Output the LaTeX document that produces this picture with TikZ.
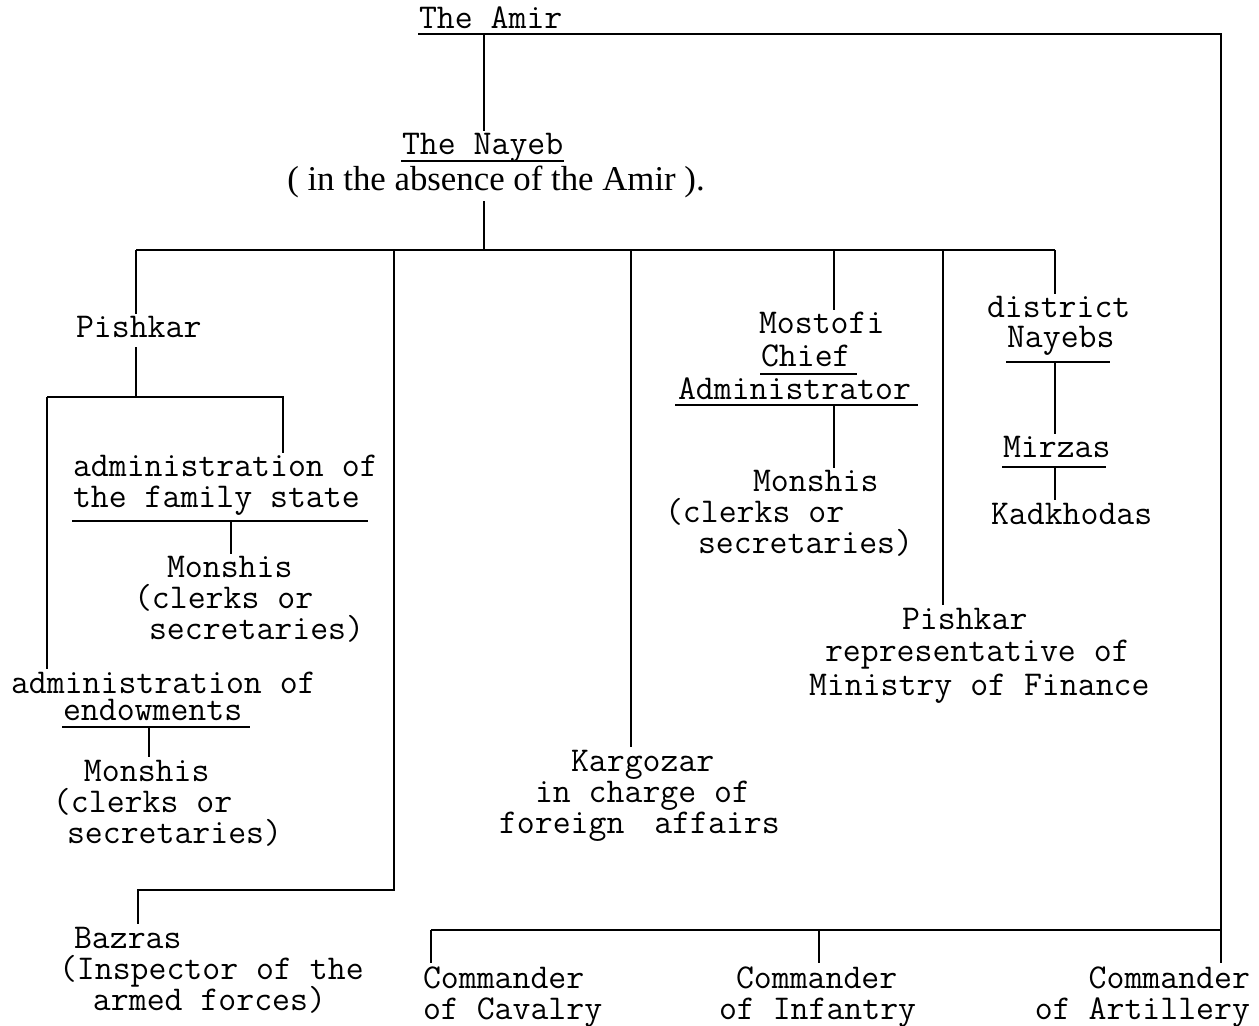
\documentclass[tikz,border=0pt]{standalone}
\usepackage{fontspec}
\newfontfamily\serfont{Liberation Serif}
\newcommand\stkl[2]{\vtop{\baselineskip=#1\relax\lineskiplimit=-100pt\lineskip=0pt\halign{##\hfil\cr#2\crcr}}}
\newcommand\stkr[2]{\vtop{\baselineskip=#1\relax\lineskiplimit=-100pt\lineskip=0pt\halign{\hfil##\cr#2\crcr}}}
\begin{document}
\begin{tikzpicture}[x=0.5pt,y=-0.5pt,line width=1pt,
  tt/.style={font=\ttfamily\fontsize{17.4}{15.5}\selectfont,inner xsep=0pt,inner ysep=1pt,anchor=base west},
  ser/.style={font=\serfont\fontsize{17.4}{18}\selectfont,inner xsep=0pt,inner ysep=1pt,anchor=base},
  uline/.style={line width=0.8pt}]
\fill[white] (0,0) rectangle (1259,1026);
\useasboundingbox (0,0) rectangle (1259,1026);

% ---- text nodes ----
\node[tt] (amir) at (418,29) {The Amir};
\node[tt] (nayeb) at (401,155) {The Nayeb};
\node[ser] (absence) at (496,191) {( in the absence of the Amir ).};
\node[tt] (pishkar) at (75,338) {Pishkar};
\node[tt] (family) at (72,477) {\stkl{15.5pt}{administration of\cr the family state}};
\node[tt] (monA) at (133,578) {\stkl{15.5pt}{\hspace*{16.5pt}Monshis\cr (clerks or\cr \hspace*{7.5pt}secretaries)}};
\node[tt] (endow) at (10,693) {\stkl{13.5pt}{administration of\cr \hspace*{26pt}endowments}};
\node[tt] (monB) at (52,781) {\stkl{15.5pt}{\hspace*{15.5pt}Monshis\cr (clerks or\cr \hspace*{7pt}secretaries)}};
\node[tt] (bazras) at (58,948) {\stkl{15.5pt}{\hspace*{7.5pt}Bazras\cr (Inspector of the\cr \hspace*{17pt}armed forces)}};
\node[tt] (karg) at (498,771) {\stkl{15.5pt}{\hspace*{36pt}Kargozar\cr \hspace*{18pt}in charge of\cr foreign\hspace*{6pt} affairs}};
\node[tt] (mostofi) at (677,334) {\stkl{16.5pt}{\hspace*{40.5pt}Mostofi\cr \hspace*{41.5pt}Chief\cr Administrator}};
\node[tt] (monC) at (664,492) {\stkl{15.5pt}{\hspace*{44pt}Monshis\cr (clerks or\cr \hspace*{16.5pt}secretaries)}};
\node[tt] (district) at (986,318) {\stkl{15pt}{district\cr \hspace*{10pt}Nayebs}};
\node[tt] (mirzas) at (1002,458) {Mirzas};
\node[tt] (kadk) at (990,524) {Kadkhodas};
\node[tt] (rep) at (808,629) {\stkl{16.5pt}{\hspace*{46.5pt}Pishkar\cr \hspace*{8pt}representative of\cr Ministry of Finance}};
\node[tt] (cav) at (422,988) {\stkl{15.5pt}{Commander\cr of Cavalry}};
\node[tt] (inf) at (718,988) {\stkl{15.5pt}{\hspace*{8.5pt}Commander\cr of Infantry}};
\node[tt,anchor=base east] (art) at (1251,988) {\stkr{15.5pt}{Commander\cr of Artillery}};

% ---- junction coordinates ----
\coordinate (amirL) at (418,34);
\coordinate (amirR) at (1221,34);
\coordinate (nJ) at (484,34);
\coordinate (nJ2) at (484,250);
\coordinate (busL) at (136,250);
\coordinate (busR) at (1055,250);
\coordinate (pJ) at (136,397);
\coordinate (p2L) at (47,397);
\coordinate (p2R) at (283,397);
\coordinate (famUL) at (72,521);
\coordinate (famUR) at (368,521);
\coordinate (famJ) at (231,521);
\coordinate (enUL) at (62,727);
\coordinate (enUR) at (250,727);
\coordinate (enJ) at (149,727);
\coordinate (bzT) at (394,250);
\coordinate (bzC) at (394,890);
\coordinate (bzL) at (138,890);
\coordinate (kJ) at (631,250);
\coordinate (mJ) at (834,250);
\coordinate (chUL) at (760,374);
\coordinate (chUR) at (857,374);
\coordinate (adUL) at (675,405);
\coordinate (adUR) at (918,405);
\coordinate (mJ2) at (834,405);
\coordinate (rJ) at (943,250);
\coordinate (nyUL) at (1006,362);
\coordinate (nyUR) at (1110,362);
\coordinate (dJ) at (1055,362);
\coordinate (mzUL) at (1002,467);
\coordinate (mzUR) at (1106,467);
\coordinate (mzJ) at (1055,467);
\coordinate (cbusL) at (431,930);
\coordinate (cbusM) at (819,930);
\coordinate (cbusR) at (1221,930);

% ---- connectors ----
\draw (amirL) -- (amirR) -- (cbusR) -- (cbusR |- art.north);
\draw (nJ) -- (nJ |- nayeb.north);
\draw[uline] ([yshift=-3pt]nayeb.base west) -- ([yshift=-3pt]nayeb.base east);
\draw (nJ2 |- absence.south) -- (nJ2);
\draw (busL) -- (busR);
\draw (busL) -- (busL |- pishkar.north);
\draw ([yshift=-3pt]pishkar.south -| pJ) -- (pJ);
\draw (p2L) -- (p2R) -- (p2R |- family.north);
\draw (p2L) -- (p2L |- endow.north);
\draw[uline] (famUL) -- (famUR);
\draw (famJ) -- (famJ |- monA.north);
\draw[uline] (enUL) -- (enUR);
\draw (enJ) -- (enJ |- monB.north);
\draw (bzT) -- (bzC) -- (bzL) -- (bzL |- bazras.north);
\draw (kJ) -- (kJ |- karg.north);
\draw (mJ) -- (mJ |- mostofi.north);
\draw[uline] (chUL) -- (chUR);
\draw[uline] (adUL) -- (adUR);
\draw (mJ2) -- (mJ2 |- monC.north);
\draw (rJ) -- (rJ |- rep.north);
\draw (busR) -- (busR |- district.north);
\draw[uline] (nyUL) -- (nyUR);
\draw (dJ) -- (dJ |- mirzas.north);
\draw[uline] (mzUL) -- (mzUR);
\draw (mzJ) -- (mzJ |- kadk.north);
\draw (cbusL) -- (cbusR);
\draw (cbusL) -- (cbusL |- cav.north);
\draw (cbusM) -- (cbusM |- inf.north);
\end{tikzpicture}
\end{document}
